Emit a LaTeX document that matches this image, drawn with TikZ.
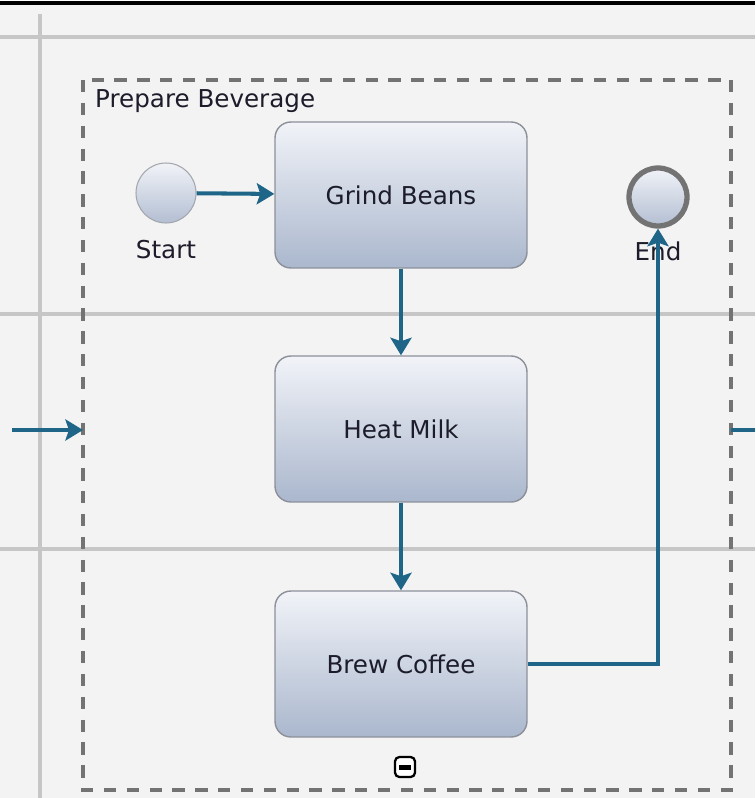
\documentclass[tikz,border=0pt]{standalone}
\usepackage{fontspec}
\setmainfont{DejaVu Sans}
\usetikzlibrary{positioning,arrows.meta,shapes}
\definecolor{flow}{HTML}{1F6587}
\definecolor{lane}{HTML}{C6C6C6}
\definecolor{paper}{HTML}{F3F3F3}
\definecolor{taskedge}{HTML}{8C9099}
\definecolor{tasktop}{HTML}{F1F3F8}
\definecolor{taskmid}{HTML}{D9DFEA}
\definecolor{taskbot}{HTML}{AAB7CD}
\definecolor{ink}{HTML}{1C1C2A}
\tikzset{
  >={Stealth[length=10pt, width=12pt, inset=2pt]},
  task/.style={draw=taskedge, thick, rounded corners=9pt,
    top color=tasktop, middle color=taskmid, bottom color=taskbot,
    minimum width=5.04cm, minimum height=2.92cm, text=ink},
  startev/.style={circle, draw=taskedge!80, semithick, minimum size=1.2cm,
    top color=tasktop, bottom color=taskbot!90},
  endev/.style={circle, draw=black!55, line width=3pt, minimum size=1.16cm,
    top color=tasktop, bottom color=taskbot!90},
  evlabel/.style={text=ink},
  flowline/.style={draw=flow, line width=2.3pt}
}

\begin{document}
\begin{tikzpicture}[x=0.02cm, y=-0.02cm, font=\fontsize{14}{16}\selectfont]
      \useasboundingbox (0,0) rectangle (755,798);
      \fill[paper] (0,0) rectangle (755,798);
      \fill[white] (0,0) rectangle (755,2);
      \draw[black, line width=2pt] (0,3) -- (755,3);
      
      % lanes
      \draw[lane, line width=2pt] (0,37) -- (755,37)
      (0,314) -- (755,314)
      (0,549) -- (755,549)
      (40,14) -- (40,798);
      
      % sub-process
      \draw[black!55, line width=2pt, dash pattern=on 7pt off 6pt] (83,80) rectangle (731,790);
      \node[anchor=west, text=ink] (title) at (89,101) {Prepare Beverage};
      
      \node[startev] (start) at (166,193) {};
      \node[evlabel, below=6pt of start] (startlbl) {Start};
      \node[task] (grind) at (401,195) {Grind Beans};
      \node[task] (heat) at (401,429) {Heat Milk};
      \node[task] (brew) at (401,664) {Brew Coffee};
      \node[endev] (end) at (658,197) {};
      \node[evlabel, below=4pt of end] (endlbl) {End};
      
      \node[draw=black, line width=1.3pt, rounded corners=2.5pt, fill=white,
        minimum size=0.4cm, inner sep=0pt] (collapse) at (405,767) {};
      \fill[black] ([xshift=-0.12cm, yshift=-0.05cm]collapse.center) rectangle ([xshift=0.12cm, yshift=0.05cm]collapse.center);
      
      \coordinate (inflow) at (12,430);
      \coordinate (inend) at (83,430);
      \coordinate (outflow) at (731,430);
      \coordinate (outend) at (755,430);
      
      \draw[->, flowline] (start) -- (grind);
      \draw[->, flowline] (grind) -- (heat);
      \draw[->, flowline] (heat) -- (brew);
      \draw[->, flowline] (inflow) -- (inend);
      \draw[flowline] (outflow) -- (outend);
      \draw[->, flowline] (brew.east) -| (end.south);
    \end{tikzpicture}
\end{document}
